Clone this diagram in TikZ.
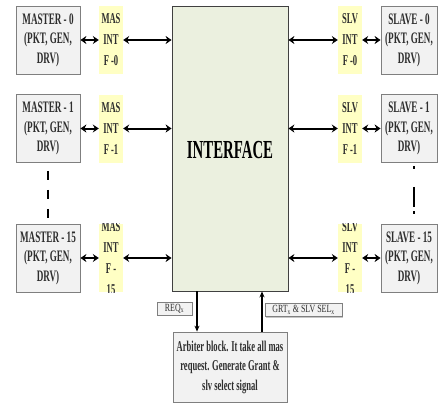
\documentclass[tikz,border=0pt]{standalone}
\usepackage{fontspec}
\setmainfont{Liberation Serif}
\newfontfamily\cond[FakeStretch=0.57]{Liberation Serif}
\newfontfamily\condtag[FakeStretch=0.72]{Liberation Serif}
\usetikzlibrary{arrows.meta,shadows}
\definecolor{boxgray}{HTML}{F2F2F2}
\definecolor{boxedge}{HTML}{7F7F7F}
\definecolor{intyel}{HTML}{FFFFC4}
\definecolor{ifgreen}{HTML}{EBF0DF}
\definecolor{txt}{HTML}{2E2E2E}
\begin{document}
\begin{tikzpicture}[x=1pt,y=-1pt,
  endbox/.style={draw=boxedge,fill=boxgray,line width=0.8pt,minimum width=64pt,minimum height=68pt,inner sep=0pt,align=center,font=\cond\bfseries\fontsize{16}{19.5}\selectfont,text=txt},
  intbox/.style={fill=intyel,minimum width=24pt,minimum height=68pt,inner sep=0pt,align=center,font=\cond\bfseries\fontsize{15}{21}\selectfont,text=txt},
  link/.style={line width=2pt,{Stealth[length=6pt,width=8pt]}-{Stealth[length=6pt,width=8pt]}},
  sig/.style={line width=1.1pt,-{Stealth[length=6pt,width=5pt]}},
  tag/.style={draw=boxedge,fill=boxgray,line width=0.6pt,drop shadow={shadow xshift=1.2pt,shadow yshift=-1.2pt,opacity=0.45},inner sep=2pt,minimum height=12pt,font=\condtag\fontsize{11}{11}\selectfont,text=txt}]
\useasboundingbox (0,0) rectangle (438,407);
% interface
\node[draw=black!75,fill=ifgreen,line width=0.8pt,minimum width=116pt,minimum height=285pt,inner sep=0pt] (if) at (230,148.5) {};
\node[font=\cond\bfseries\fontsize{26}{28}\selectfont] (iftext) at (230,150) {INTERFACE};
% masters
\node[endbox] (m0) at (48,40) {MASTER - 0\\(PKT, GEN,\\DRV)};
\node[endbox] (m1) at (48,128.5) {MASTER - 1\\(PKT, GEN,\\DRV)};
\node[endbox] (m15) at (48,258) {MASTER - 15\\(PKT, GEN,\\DRV)};
% master interfaces
\node[intbox] (mi0) at (111,40) {MAS\\INT\\F -0};
\node[intbox] (mi1) at (111,128.5) {MAS\\INT\\F -1};
\node[intbox] (mi15) at (111,258) {};
\begin{scope}
\clip (mi15.north west) rectangle (mi15.south east);
\node[intbox,fill=none] (mi15t) at (111,258) {MAS\\INT\\F -\\15};
\end{scope}
% slaves
\node[endbox,minimum width=56pt] (s0) at (409,40) {SLAVE - 0\\(PKT, GEN,\\DRV)};
\node[endbox,minimum width=56pt] (s1) at (409,128.5) {SLAVE - 1\\(PKT, GEN,\\DRV)};
\node[endbox,minimum width=56pt] (s15) at (409,258) {SLAVE - 15\\(PKT, GEN,\\DRV)};
% slave interfaces
\node[intbox] (si0) at (350,40) {SLV\\INT\\F -0};
\node[intbox] (si1) at (350,128.5) {SLV\\INT\\F -1};
\node[intbox] (si15) at (350,258) {};
\begin{scope}
\clip (si15.north west) rectangle (si15.south east);
\node[intbox,fill=none] (si15t) at (350,258) {SLV\\INT\\F -\\15};
\end{scope}
% links
\foreach \r in {0,1,15}{
  \draw[link] (m\r.east) -- (mi\r.west);
  \draw[link] (mi\r.east) -- (mi\r.east -| if.west);
  \draw[link] (si\r.west -| if.east) -- (si\r.west);
  \draw[link] (si\r.east) -- (s\r.west);
}
% dashed continuation
\draw[line width=1.2pt,dash pattern=on 9pt off 10pt] (m1.south) ++(0,8) coordinate (md1) -- (m15.north);
\draw[line width=1.2pt,dash pattern=on 3pt off 18pt on 20pt off 4pt] (s1.south) ++(5,3) coordinate (sd1) -- (s15.north -| sd1);
% arbiter
\node[draw=boxedge,fill=boxgray,line width=0.8pt,minimum width=114pt,minimum height=70pt,inner sep=0pt,align=center,font=\cond\bfseries\fontsize{15}{19.5}\selectfont,text=txt] (arb) at (230,367) {Arbiter block. It take all mas\\request. Generate Grant \&\\slv select signal};
\coordinate (rq) at (197,0);
\coordinate (gr) at (262,0);
\draw[sig] (if.south -| rq) -- (arb.north -| rq);
\draw[sig] (arb.north -| gr) -- (if.south -| gr);
\node[tag,minimum width=35pt] (req) at (174.5,308.5) {REQ\textsubscript{x}};
\node[tag,minimum width=77pt] (grt) at (303.5,310) {GRT\textsubscript{x} \& SLV SEL\textsubscript{x}};
\end{tikzpicture}
\end{document}
